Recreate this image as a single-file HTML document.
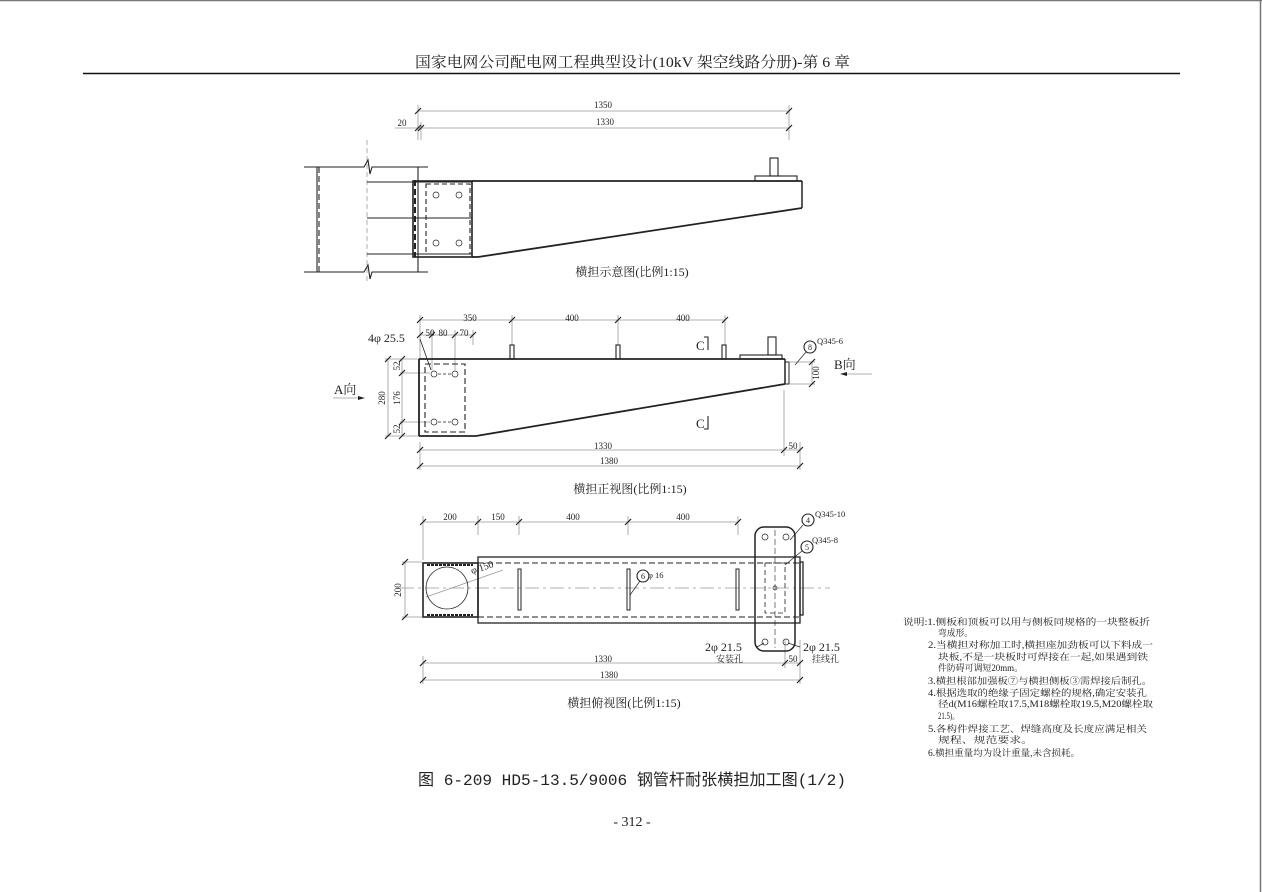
<!DOCTYPE html>
<html><head><meta charset="utf-8"><style>
html,body{margin:0;padding:0;background:#fff;width:1262px;height:892px;overflow:hidden}
svg{display:block}
text{font-family:"Liberation Serif","Noto Serif CJK SC",serif;fill:#222}
.s{font-family:"Liberation Mono","Noto Sans CJK SC",monospace}
</style></head><body>
<svg width="1262" height="892" viewBox="0 0 1262 892" xmlns="http://www.w3.org/2000/svg">
<g fill="none" stroke="#777" stroke-width="1.5"><line x1="0" y1="0.5" x2="1262" y2="0.5"/><line x1="1260.5" y1="0" x2="1260.5" y2="892"/></g>
<text x="415" y="67" font-size="15" textLength="435" lengthAdjust="spacingAndGlyphs">国家电网公司配电网工程典型设计(10kV 架空线路分册)-第 6 章</text>
<line x1="83" y1="73.5" x2="1180" y2="73.5" stroke="#111" stroke-width="1.5"/>

<!-- Drawing 1 -->
<g stroke="#999" stroke-width="0.8" fill="none">
<line x1="418" y1="111" x2="789" y2="111"/><line x1="421" y1="128" x2="789" y2="128"/>
<line x1="395" y1="128" x2="421" y2="128"/>
<line x1="418" y1="105" x2="418" y2="140"/><line x1="421" y1="122" x2="421" y2="140"/><line x1="789" y1="105" x2="789" y2="140"/>
<line x1="367" y1="140" x2="367" y2="282" stroke-dasharray="5,3"/>
</g>
<g stroke="#222" stroke-width="1.2"><line x1="415" y1="114" x2="421" y2="108"/><line x1="786" y1="114" x2="792" y2="108"/><line x1="415" y1="131" x2="421" y2="125"/><line x1="418" y1="131" x2="424" y2="125"/><line x1="786" y1="131" x2="792" y2="125"/></g>
<g font-size="9" text-anchor="middle"><text x="603" y="108">1350</text><text x="605" y="125">1330</text><text x="402" y="126">20</text></g>
<g stroke="#222" stroke-width="1.1" fill="none">
<polyline points="304,167 364,167 368,160 370,174 372,167 428,167"/>
<polyline points="304,272 364,272 368,265 370,279 372,272 428,272"/>
<line x1="317" y1="167" x2="317" y2="272"/><line x1="418" y1="167" x2="418" y2="272"/>
<line x1="319" y1="167" x2="319" y2="272" stroke-dasharray="6,3"/>
<line x1="415" y1="180" x2="415" y2="257" stroke-dasharray="6,3" stroke-width="2"/>
<line x1="367" y1="182" x2="472" y2="182"/><line x1="367" y1="218" x2="472" y2="218"/><line x1="367" y1="254" x2="472" y2="254"/>
<rect x="413" y="181" width="59" height="76" stroke-width="1.6"/>
<rect x="426" y="184" width="44" height="70" stroke-dasharray="5,3"/>
<line x1="472" y1="181" x2="802" y2="181" stroke-width="1.8"/>
<line x1="478" y1="257" x2="802" y2="208" stroke-width="1.8"/><line x1="472" y1="257" x2="478" y2="257" stroke-width="1.8"/>
<line x1="802" y1="181" x2="802" y2="208" stroke-width="1.5"/>
<rect x="755" y="176" width="42" height="5"/><rect x="770" y="158" width="8" height="18"/>
<circle cx="436" cy="195" r="3" stroke-width="0.7"/><circle cx="459" cy="195" r="3" stroke-width="0.7"/><circle cx="436" cy="243" r="3" stroke-width="0.7"/><circle cx="459" cy="243" r="3" stroke-width="0.7"/>
</g>
<text x="632" y="276" font-size="12" text-anchor="middle">横担示意图(比例1:15)</text>

<!-- Drawing 2 -->
<g stroke="#999" stroke-width="0.8" fill="none">
<line x1="420" y1="320" x2="725" y2="320"/><line x1="420" y1="335" x2="473" y2="335"/>
<line x1="420" y1="315" x2="420" y2="359"/><line x1="512" y1="315" x2="512" y2="345"/><line x1="618" y1="315" x2="618" y2="345"/><line x1="725" y1="315" x2="725" y2="345"/>
<line x1="432" y1="330" x2="432" y2="370"/><line x1="455" y1="330" x2="455" y2="370"/><line x1="473" y1="330" x2="473" y2="345"/>
<line x1="388" y1="359" x2="388" y2="436"/><line x1="402" y1="359" x2="402" y2="436"/>
<line x1="385" y1="359" x2="419" y2="359"/><line x1="385" y1="436" x2="419" y2="436"/><line x1="400" y1="373" x2="430" y2="373"/><line x1="400" y1="422" x2="430" y2="422"/>
<line x1="420" y1="450" x2="800" y2="450"/><line x1="420" y1="466" x2="800" y2="466"/>
<line x1="420" y1="442" x2="420" y2="470"/><line x1="784" y1="390" x2="784" y2="456"/><line x1="800" y1="442" x2="800" y2="470"/>
<line x1="812" y1="362" x2="812" y2="384"/><line x1="790" y1="362" x2="815" y2="362"/><line x1="790" y1="384" x2="815" y2="384"/>
<line x1="333" y1="398" x2="360" y2="398"/><line x1="842" y1="374" x2="872" y2="374"/>
</g>
<g stroke="#222" stroke-width="1.2">
<line x1="417" y1="323" x2="423" y2="317"/><line x1="509" y1="323" x2="515" y2="317"/><line x1="615" y1="323" x2="621" y2="317"/><line x1="722" y1="323" x2="728" y2="317"/>
<line x1="417" y1="338" x2="423" y2="332"/><line x1="429" y1="338" x2="435" y2="332"/><line x1="452" y1="338" x2="458" y2="332"/><line x1="470" y1="338" x2="476" y2="332"/>
<line x1="385" y1="362" x2="391" y2="356"/><line x1="385" y1="439" x2="391" y2="433"/><line x1="399" y1="362" x2="405" y2="356"/><line x1="399" y1="376" x2="405" y2="370"/><line x1="399" y1="425" x2="405" y2="419"/><line x1="399" y1="439" x2="405" y2="433"/>
<line x1="417" y1="453" x2="423" y2="447"/><line x1="781" y1="453" x2="787" y2="447"/><line x1="797" y1="453" x2="803" y2="447"/><line x1="417" y1="469" x2="423" y2="463"/><line x1="797" y1="469" x2="803" y2="463"/>
<line x1="809" y1="365" x2="815" y2="359"/><line x1="809" y1="387" x2="815" y2="381"/>
</g>
<polygon points="365,398 358,396 358,400" fill="#222"/><polygon points="840,374 847,372 847,376" fill="#222"/>
<g font-size="9" text-anchor="middle"><text x="470" y="321">350</text><text x="572" y="321">400</text><text x="683" y="321">400</text>
<text x="430" y="336">50</text><text x="443" y="336">80</text><text x="464" y="336">70</text>
<text x="603" y="449">1330</text><text x="793" y="449">50</text><text x="609" y="464">1380</text>
<text transform="translate(385,398) rotate(-90)">280</text><text transform="translate(400,398) rotate(-90)">176</text>
<text transform="translate(400,366) rotate(-90)">52</text><text transform="translate(400,429) rotate(-90)">52</text>
<text transform="translate(819,373) rotate(-90)">100</text>
<text x="817" y="344" text-anchor="start" font-size="8.5">Q345-6</text>
<text x="810" y="350" font-size="8">8</text></g>
<text x="368" y="342" font-size="12">4φ 25.5</text>
<text x="334" y="394" font-size="13">A向</text><text x="834" y="369" font-size="13">B向</text>
<text x="696" y="350" font-size="13">C</text><text x="696" y="428" font-size="13">C</text>
<g stroke="#222" stroke-width="1.1" fill="none">
<polyline points="704,337 708,337 708,350"/><polyline points="704,429 708,429 708,416"/>
<circle cx="810" cy="347" r="6"/><line x1="806" y1="352" x2="795" y2="365" stroke-width="0.7"/>
<line x1="420" y1="339" x2="431" y2="370" stroke-width="0.8"/>
<line x1="419" y1="359" x2="785" y2="359" stroke-width="1.8"/>
<line x1="419" y1="359" x2="419" y2="436" stroke-width="1.8"/>
<line x1="419" y1="436" x2="476" y2="436" stroke-width="1.8"/>
<line x1="476" y1="436" x2="785" y2="384" stroke-width="1.8"/>
<line x1="785" y1="359" x2="785" y2="384" stroke-width="1.5"/>
<rect x="785" y="362" width="4" height="22" stroke-width="1"/>
<rect x="425" y="364" width="40" height="68" stroke-dasharray="6,3"/>
<rect x="510" y="345" width="4" height="14"/><rect x="616" y="345" width="4" height="14"/><rect x="722" y="345" width="4" height="14"/>
<rect x="740" y="355" width="42" height="4"/><rect x="768" y="337" width="8" height="18"/>
<g stroke-width="0.7"><circle cx="434" cy="374" r="3"/><circle cx="455" cy="374" r="3"/><circle cx="434" cy="422" r="3"/><circle cx="455" cy="422" r="3"/>
<line x1="438" y1="374" x2="451" y2="374" stroke-dasharray="3,2"/><line x1="438" y1="422" x2="451" y2="422" stroke-dasharray="3,2"/></g>
</g>
<text x="630" y="493" font-size="12" text-anchor="middle">横担正视图(比例1:15)</text>

<!-- Drawing 3 -->
<g stroke="#999" stroke-width="0.8" fill="none">
<line x1="423" y1="522" x2="738" y2="522"/>
<line x1="423" y1="516" x2="423" y2="560"/><line x1="478" y1="516" x2="478" y2="535"/><line x1="519" y1="516" x2="519" y2="535"/><line x1="628" y1="516" x2="628" y2="535"/><line x1="738" y1="516" x2="738" y2="535"/>
<line x1="405" y1="562" x2="405" y2="617"/><line x1="402" y1="562" x2="422" y2="562"/><line x1="402" y1="617" x2="422" y2="617"/>
<line x1="423" y1="663" x2="800" y2="663"/><line x1="423" y1="680" x2="800" y2="680"/>
<line x1="423" y1="656" x2="423" y2="684"/><line x1="785" y1="640" x2="785" y2="668"/><line x1="800" y1="640" x2="800" y2="684"/>
<line x1="400" y1="588" x2="830" y2="588" stroke-dasharray="14,4,3,4"/>
<line x1="426" y1="597" x2="503" y2="570"/>
</g>
<g stroke="#222" stroke-width="1.2">
<line x1="420" y1="525" x2="426" y2="519"/><line x1="475" y1="525" x2="481" y2="519"/><line x1="516" y1="525" x2="522" y2="519"/><line x1="625" y1="525" x2="631" y2="519"/><line x1="735" y1="525" x2="741" y2="519"/>
<line x1="402" y1="565" x2="408" y2="559"/><line x1="402" y1="620" x2="408" y2="614"/>
<line x1="420" y1="666" x2="426" y2="660"/><line x1="782" y1="666" x2="788" y2="660"/><line x1="797" y1="666" x2="803" y2="660"/><line x1="420" y1="683" x2="426" y2="677"/><line x1="797" y1="683" x2="803" y2="677"/>
</g>
<g font-size="9" text-anchor="middle"><text x="450" y="520">200</text><text x="498" y="520">150</text><text x="573" y="520">400</text><text x="683" y="520">400</text>
<text x="603" y="662">1330</text><text x="793" y="662">50</text><text x="609" y="678">1380</text>
<text transform="translate(401,590) rotate(-90)">200</text>
<text x="815" y="517" text-anchor="start" font-size="8.5">Q345-10</text><text x="812" y="543" text-anchor="start" font-size="8.5">Q345-8</text>
<text x="648" y="578" text-anchor="start" font-size="8.5">φ 16</text>
<text x="808" y="523" font-size="8">4</text><text x="807" y="550" font-size="8">5</text><text x="643" y="579" font-size="8">6</text></g>
<text x="472" y="574" font-size="10" transform="rotate(-18 472 574)">φ 150</text>
<text x="705" y="651" font-size="12">2φ 21.5</text><text x="803" y="651" font-size="12">2φ 21.5</text>
<text x="716" y="662" font-size="9">安装孔</text><text x="812" y="662" font-size="9">挂线孔</text>
<g stroke="#222" stroke-width="1.1" fill="none">
<rect x="423" y="563" width="55" height="54" stroke-width="1.6"/>
<line x1="427" y1="565" x2="473" y2="565" stroke-dasharray="3,1" stroke-width="2"/><line x1="427" y1="615" x2="473" y2="615" stroke-dasharray="3,1" stroke-width="2"/>
<rect x="478" y="557" width="322" height="66" stroke-width="1.3"/>
<line x1="478" y1="563" x2="800" y2="563" stroke-dasharray="6,3"/><line x1="478" y1="617" x2="800" y2="617" stroke-dasharray="6,3"/>
<circle cx="447" cy="588" r="21" stroke-width="0.8"/>
<rect x="518" y="569" width="3" height="41" stroke-width="1"/><rect x="627" y="569" width="3" height="41" stroke-width="1"/><rect x="736" y="569" width="3" height="41" stroke-width="1"/>
<rect x="800" y="562" width="3" height="53" stroke-width="1.3"/>
<rect x="755" y="527" width="40" height="124" rx="9" stroke-width="1.5"/>
<rect x="765" y="563" width="20" height="50" stroke-dasharray="5,3" stroke-width="0.8"/>
<line x1="775" y1="530" x2="775" y2="648" stroke-dasharray="6,3" stroke-width="0.6"/>
<g stroke-width="0.7"><circle cx="765" cy="537" r="3"/><circle cx="786" cy="537" r="3"/><circle cx="765" cy="642" r="3"/><circle cx="786" cy="642" r="3"/><circle cx="775" cy="588" r="2"/></g>
<circle cx="808" cy="520" r="6"/><circle cx="807" cy="547" r="6"/><circle cx="643" cy="576" r="6"/>
<line x1="803" y1="525" x2="790" y2="540" stroke-width="0.7"/><line x1="802" y1="551" x2="785" y2="565" stroke-width="0.7"/><line x1="640" y1="581" x2="630" y2="595" stroke-width="0.7"/>
<line x1="757" y1="647" x2="764" y2="643" stroke-width="0.8"/><line x1="800" y1="647" x2="788" y2="643" stroke-width="0.8"/>
</g>
<text x="624" y="707" font-size="12" text-anchor="middle">横担俯视图(比例1:15)</text>

<!-- Notes -->
<g font-size="9" lengthAdjust="spacingAndGlyphs">
<text x="903" y="625" textLength="247" lengthAdjust="spacingAndGlyphs">说明:1.侧板和顶板可以用与侧板同规格的一块整板折</text>
<text x="938" y="636" textLength="35" lengthAdjust="spacingAndGlyphs">弯成形。</text>
<text x="928" y="648" textLength="225" lengthAdjust="spacingAndGlyphs">2.当横担对称加工时,横担座加劲板可以下料成一</text>
<text x="938" y="660" textLength="210" lengthAdjust="spacingAndGlyphs">块板,不是一块板时可焊接在一起,如果遇到铁</text>
<text x="938" y="671" textLength="85" lengthAdjust="spacingAndGlyphs">件防碍可调短20mm。</text>
<text x="928" y="684" textLength="224" lengthAdjust="spacingAndGlyphs">3.横担根部加强板⑦与横担侧板③需焊接后制孔。</text>
<text x="928" y="696" textLength="219" lengthAdjust="spacingAndGlyphs">4.根据选取的绝缘子固定螺栓的规格,确定安装孔</text>
<text x="938" y="707" textLength="215" lengthAdjust="spacingAndGlyphs">径d(M16螺栓取17.5,M18螺栓取19.5,M20螺栓取</text>
<text x="938" y="719" textLength="21" lengthAdjust="spacingAndGlyphs">21.5)。</text>
<text x="928" y="732" textLength="219" lengthAdjust="spacingAndGlyphs">5.各构件焊接工艺、焊缝高度及长度应满足相关</text>
<text x="938" y="743" textLength="95" lengthAdjust="spacingAndGlyphs">规程、规范要求。</text>
<text x="928" y="756" textLength="152" lengthAdjust="spacingAndGlyphs">6.横担重量均为设计重量,未含损耗。</text>
</g>

<text x="418" y="785" font-size="16" class="s" textLength="428" lengthAdjust="spacingAndGlyphs">图 6-209  HD5-13.5/9006 钢管杆耐张横担加工图(1/2)</text>
<text x="632" y="826" font-size="14" text-anchor="middle">- 312 -</text>
</svg>
</body></html>
